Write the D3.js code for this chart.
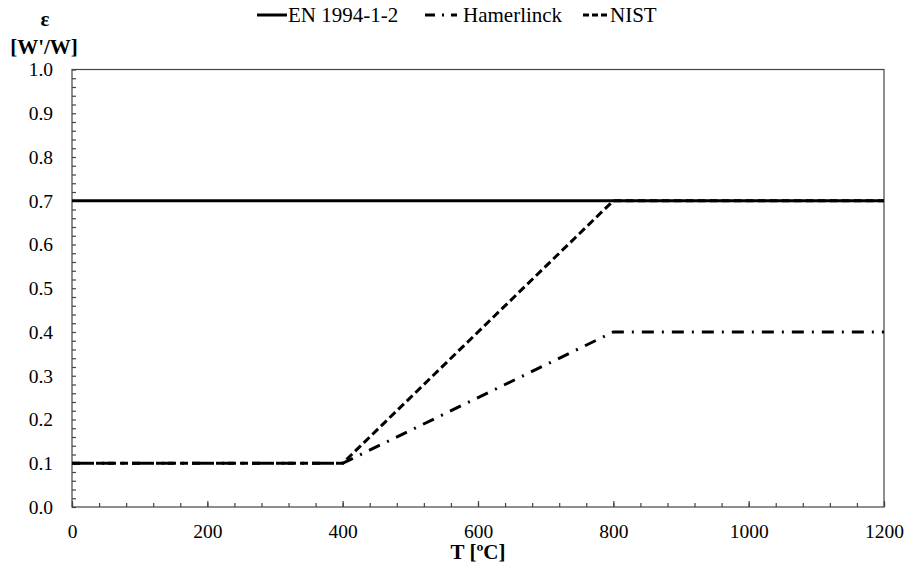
<!doctype html>
<html lang='en'>
<head>
<meta charset="utf-8">
<script src="https://d3js.org/d3.v7.min.js"></script>
<title>Emissivity vs temperature</title>
<style>
  body { margin: 0; background: white; }
  svg text { font-family: "Liberation Serif", "Times New Roman", Tinos, "DejaVu Serif", serif; fill: #000; }
  .tick text { font-size: 19.5px; }
  .axis path, .axis line { stroke: #444; }
</style>
</head>
<body>
<div id='chart'></div>
<script>
// data
const seriesNames = ['EN 1994-1-2', 'Hamerlinck', 'NIST'];
const enT = [0, 1200];
const enE = [0.7, 0.7];
const hamT = [0, 400, 800, 1200];
const hamE = [0.1, 0.1, 0.4, 0.4];
const nistT = [0, 400, 800, 1200];
const nistE = [0.1, 0.1, 0.7, 0.7];
const xTicks = [0, 200, 400, 600, 800, 1000, 1200];
const yTicks = [0, 0.1, 0.2, 0.3, 0.4, 0.5, 0.6, 0.7, 0.8, 0.9, 1.0];

const W = 907, H = 564;
const pLeft = 72, pRight = 884, pTop = 69.5, pBottom = 507;
const serif = '"Liberation Serif", "Times New Roman", Tinos, "DejaVu Serif", serif';

const svg = d3.select('#chart').append('svg')
  .attr('width', W).attr('height', H)
  .style('font-family', serif);

const x = d3.scaleLinear().domain([0, 1200]).range([pLeft, pRight]);
const y = d3.scaleLinear().domain([0, 1]).range([pBottom, pTop]);

// frame
svg.append('rect')
  .attr('x', pLeft).attr('y', pTop)
  .attr('width', pRight - pLeft).attr('height', pBottom - pTop)
  .attr('fill', 'none').attr('stroke', '#444').attr('stroke-width', 1.2);

// minor ticks
const xMinor = d3.range(0, 1201, 40);
const yMinor = d3.range(0, 1.0001, 0.02);

const xAxis = svg.append('g').attr('class', 'axis')
  .attr('transform', 'translate(0,' + pBottom + ')');
xAxis.call(d3.axisBottom(x).tickValues(xMinor).tickSize(-4).tickFormat(''));
xAxis.select('.domain').remove();
const xMaj = svg.append('g').attr('class', 'axis')
  .attr('transform', 'translate(0,' + pBottom + ')');
xMaj.call(d3.axisBottom(x).tickValues(xTicks).tickSize(-6).tickPadding(17).tickFormat(d3.format('d')));
xMaj.select('.domain').remove();

const yAxis = svg.append('g').attr('class', 'axis')
  .attr('transform', 'translate(' + pLeft + ',0)');
yAxis.call(d3.axisLeft(y).tickValues(yMinor).tickSize(-4).tickFormat(''));
yAxis.select('.domain').remove();
const yMaj = svg.append('g').attr('class', 'axis')
  .attr('transform', 'translate(' + pLeft + ',0)');
yMaj.call(d3.axisLeft(y).tickValues(yTicks).tickSize(0).tickPadding(19).tickFormat(d3.format('.1f')));
yMaj.select('.domain').remove();
svg.selectAll('.axis').attr('font-family', null);
svg.selectAll('text').style('font-family', serif);
svg.selectAll('.tick line').attr('stroke-width', 1.2);

// lines
const line = d3.line().x(d => x(d[0])).y(d => y(d[1]));
const zip = (a, b) => a.map((v, i) => [v, b[i]]);

const styles = [
  { dash: null, width: 3 },
  { dash: '12,8,2,8', width: 3 },
  { dash: '8,4', width: 3 }
];
const data = [zip(enT, enE), zip(hamT, hamE), zip(nistT, nistE)];

[2, 1, 0].forEach(i => {
  svg.append('path')
    .datum(data[i])
    .attr('d', line)
    .attr('fill', 'none')
    .attr('stroke', '#000')
    .attr('stroke-width', styles[i].width)
    .attr('stroke-dasharray', styles[i].dash);
});

// legend
const legendItems = [
  { x1: 257, x2: 287, tx: 288 },
  { x1: 425, x2: 457, tx: 463 },
  { x1: 583, x2: 610, tx: 610 }
];
const ly = 15;
const legDash = [null, '10,7,2,7', '6,3'];
legendItems.forEach((it, i) => {
  svg.append('line')
    .attr('x1', it.x1).attr('x2', it.x2)
    .attr('y1', ly).attr('y2', ly)
    .attr('stroke', '#000').attr('stroke-width', 3)
    .attr('stroke-dasharray', legDash[i]);
  svg.append('text')
    .attr('x', it.tx).attr('y', ly + 7)
    .style('font-family', serif)
    .attr('font-size', 21)
    .text(seriesNames[i]);
});

// axis titles
svg.append('text')
  .attr('x', 45).attr('y', 26)
  .attr('text-anchor', 'middle')
  .style('font-family', serif)
  .attr('font-size', 21).attr('font-weight', 'bold')
  .text('ε');
svg.append('text')
  .attr('x', 44).attr('y', 54)
  .attr('text-anchor', 'middle')
  .style('font-family', serif)
  .attr('font-size', 21).attr('font-weight', 'bold')
  .text("[W'/W]");
svg.append('text')
  .attr('x', (pLeft + pRight) / 2).attr('y', 559)
  .attr('text-anchor', 'middle')
  .style('font-family', serif)
  .attr('font-size', 21).attr('font-weight', 'bold')
  .text('T [ºC]');
</script>
</body>
</html>
